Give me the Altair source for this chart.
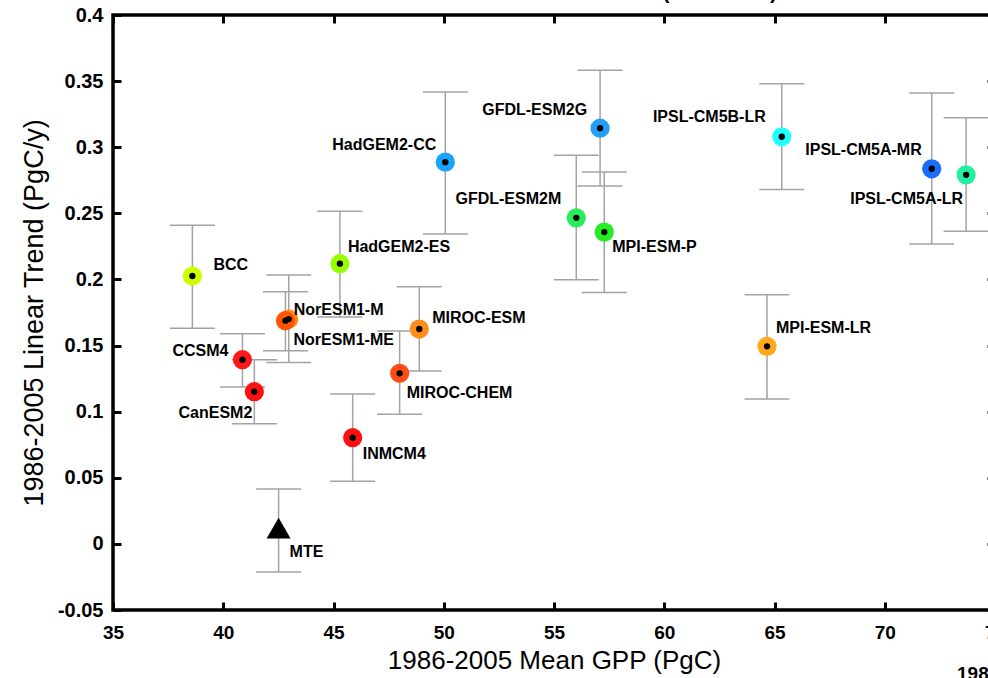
import altair as alt
import pandas as pd

# Model ensemble: 1986-2005 mean GPP (PgC) vs linear GPP trend (PgC/y), with trend uncertainty
models = ["BCC", "CCSM4", "CanESM2", "NorESM1-M", "NorESM1-ME", "HadGEM2-ES",
          "INMCM4", "MIROC-CHEM", "MIROC-ESM", "HadGEM2-CC", "GFDL-ESM2M",
          "GFDL-ESM2G", "MPI-ESM-P", "MPI-ESM-LR", "IPSL-CM5B-LR",
          "IPSL-CM5A-MR", "IPSL-CM5A-LR", "MTE"]
gpp_mean = [38.60, 40.87, 41.41, 42.97, 42.82, 45.29,
            45.87, 48.00, 48.89, 50.07, 56.01,
            57.09, 57.28, 64.66, 65.33,
            72.13, 73.69, 42.51]
gpp_trend = [0.2026, 0.1393, 0.1151, 0.1700, 0.1688, 0.2119,
             0.0803, 0.1290, 0.1625, 0.2887, 0.2466,
             0.3144, 0.2358, 0.1494, 0.3079,
             0.2837, 0.2791, 0.0120]
trend_lo = [0.1630, 0.1187, 0.0909, 0.1371, 0.1461, 0.1716,
            0.0474, 0.0980, 0.1308, 0.2343, 0.1998,
            0.2706, 0.1902, 0.1096, 0.2681,
            0.2268, 0.2364, -0.0212]
trend_hi = [0.2410, 0.1590, 0.1393, 0.2033, 0.1907, 0.2515,
            0.1134, 0.1610, 0.1945, 0.3417, 0.2940,
            0.3583, 0.2812, 0.1884, 0.3480,
            0.3411, 0.3222, 0.0416]

x_ticks = [35, 40, 45, 50, 55, 60, 65, 70, 75]
y_ticks = [-0.05, 0, 0.05, 0.1, 0.15, 0.2, 0.25, 0.3, 0.35, 0.4]

# marker colours, one per model (MTE is drawn as a black triangle)
palette = ["#ccff00", "#ff1a1a", "#ff1010", "#ff8c10", "#ff5500", "#99ff00",
           "#ff1010", "#ff4c14", "#ff8c1a", "#1aa3ff", "#28ec5a",
           "#229ef5", "#22ee22", "#ffaa1a", "#22ffff",
           "#1a6cff", "#22f0a0"]

# label placement around each marker: (align, dx, dy)
label_layout = {
    "BCC": ("left", 21, -6),
    "HadGEM2-CC": ("right", -9, -12),
    "GFDL-ESM2G": ("right", -13, -13),
    "GFDL-ESM2M": ("right", -15, -14),
    "MPI-ESM-P": ("left", 8, 20),
    "IPSL-CM5B-LR": ("right", -16, -15),
    "IPSL-CM5A-MR": ("right", -10, -14),
    "IPSL-CM5A-LR": ("right", -3, 29),
    "MPI-ESM-LR": ("left", 9, -13),
    "HadGEM2-ES": ("left", 8, -12),
    "NorESM1-M": ("left", 5, -4),
    "NorESM1-ME": ("left", 8, 24),
    "MIROC-ESM": ("left", 13, -6),
    "MIROC-CHEM": ("left", 7, 25),
    "CCSM4": ("right", -14, -4),
    "CanESM2": ("right", -2, 26),
    "INMCM4": ("left", 10, 21),
    "MTE": ("left", 11, 29),
}

df = pd.DataFrame({"model": models, "gpp": gpp_mean, "trend": gpp_trend,
                   "lo": trend_lo, "hi": trend_hi})

FONT = "Liberation Sans"
GRAY = "#a3a3a3"
xs = alt.Scale(domain=[35, 75], nice=False, zero=False)
ys = alt.Scale(domain=[-0.05, 0.4], nice=False, zero=False)
y_label_expr = "toString(round(datum.value*100)/100)"

tick_axis = dict(offset=-8, tickSize=8, tickWidth=3, tickColor="black",
                 domain=False, grid=False, labelFlush=False)

base = alt.Chart(df)

# error bars (carry the bottom and left axes with labels)
bars = base.mark_rule(color=GRAY, strokeWidth=1.5).encode(
    x=alt.X("gpp:Q", scale=xs, axis=alt.Axis(
        orient="bottom", values=x_ticks, labelPadding=13, labelFontSize=19,
        labelFontWeight="bold", labelFont=FONT, labelColor="black",
        title="1986-2005 Mean GPP (PgC)", titleFont=FONT, titleFontSize=26,
        titleFontWeight="normal", titleColor="black", titlePadding=5,
        **tick_axis)),
    y=alt.Y("lo:Q", scale=ys, axis=alt.Axis(
        orient="left", values=y_ticks, labelExpr=y_label_expr, labelPadding=10,
        labelFontSize=20, labelFontWeight="bold", labelFont=FONT,
        labelColor="black", title="1986-2005 Linear Trend (PgC/y)",
        titleFont=FONT, titleFontSize=27, titleFontWeight="normal",
        titleColor="black", titlePadding=9, **tick_axis)),
    y2="hi:Q",
)

# caps at the low end (carry the top and right tick-only axes)
caps_lo = base.mark_tick(orient="horizontal", size=45, thickness=1.5,
                         color=GRAY, opacity=1).encode(
    x=alt.X("gpp:Q", scale=xs, axis=alt.Axis(
        orient="top", values=x_ticks, labels=False, title="", **tick_axis)),
    y=alt.Y("lo:Q", scale=ys, axis=alt.Axis(
        orient="right", values=y_ticks, labels=False, title="", **tick_axis)),
)

caps_hi = base.mark_tick(orient="horizontal", size=45, thickness=1.5,
                         color=GRAY, opacity=1).encode(
    x=alt.X("gpp:Q", scale=xs, axis=None),
    y=alt.Y("hi:Q", scale=ys, axis=None),
)

model_df = base.transform_filter(alt.datum.model != "MTE")

circles = model_df.mark_circle(size=370, opacity=1).encode(
    x=alt.X("gpp:Q", scale=xs, axis=None),
    y=alt.Y("trend:Q", scale=ys, axis=None),
    color=alt.Color("model:N", scale=alt.Scale(domain=models[:-1], range=palette),
                    legend=None),
)

dots = model_df.mark_circle(size=40, opacity=1, color="black").encode(
    x=alt.X("gpp:Q", scale=xs, axis=None),
    y=alt.Y("trend:Q", scale=ys, axis=None),
)

mte = base.transform_filter(alt.datum.model == "MTE").mark_point(
    shape="triangle-up", size=576, filled=True, opacity=1, color="black"
).encode(
    x=alt.X("gpp:Q", scale=xs, axis=None),
    y=alt.Y("trend:Q", scale=ys, axis=None),
)

labels = []
for name, (align, dx, dy) in label_layout.items():
    labels.append(
        base.transform_filter(alt.datum.model == name).mark_text(
            align=align, baseline="alphabetic", dx=dx, dy=dy, font=FONT,
            fontSize=16, fontWeight="bold", color="black"
        ).encode(
            x=alt.X("gpp:Q", scale=xs, axis=None),
            y=alt.Y("trend:Q", scale=ys, axis=None),
            text="model:N",
        )
    )

# heading above the frame and the neighbouring caption at the lower right
heading = alt.Chart(pd.DataFrame({"t": ["Global GPP Trend vs. Mean GPP (1986-2005)"]})).mark_text(
    align="right", baseline="alphabetic", font=FONT, fontSize=21,
    fontWeight="bold", color="black"
).encode(x=alt.value(664), y=alt.value(-16.5), text="t:N")

caption = alt.Chart(pd.DataFrame({"t": ["1986-2005 Linear Trend"]})).mark_text(
    align="left", baseline="alphabetic", font=FONT, fontSize=19,
    fontWeight="bold", color="black"
).encode(x=alt.value(844), y=alt.value(665), text="t:N")

chart = alt.layer(
    bars, caps_lo, caps_hi, circles, dots, mte, *labels, heading, caption
).resolve_axis(
    x="independent", y="independent"
).properties(
    width=882, height=595,
    autosize=alt.AutoSizeParams(type="none"),
    padding={"left": 113, "top": 15, "right": -7, "bottom": 68},
    background="white",
).configure_view(
    stroke="black", strokeWidth=3.5
)

chart.save("out.html", embed_options={"renderer": "svg", "actions": False})
